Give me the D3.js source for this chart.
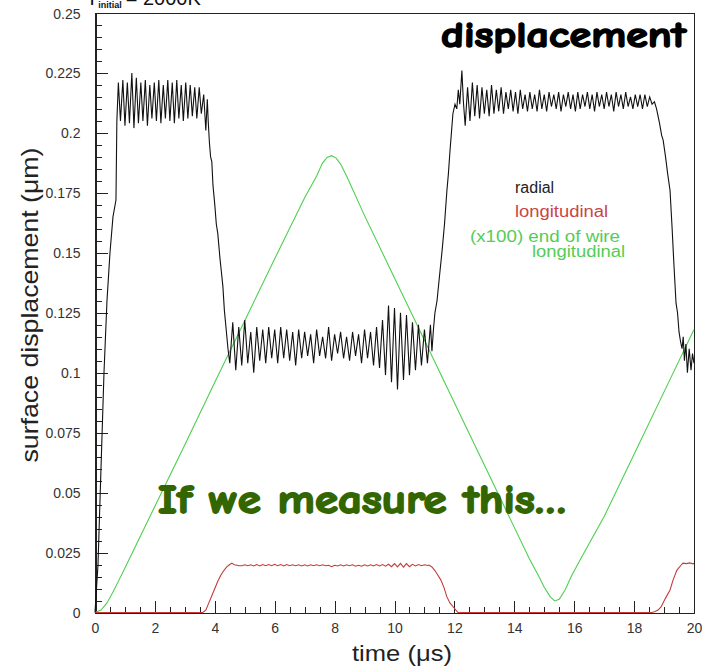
<!DOCTYPE html>
<html>
<head>
<meta charset="utf-8">
<script src="https://cdn.jsdelivr.net/npm/d3@7"></script>
<style>
  html, body { margin: 0; padding: 0; background: #fff; }
  svg { display: block; }
</style>
</head>
<body>
<svg id="chart" width="717" height="670"></svg>
<script>
// ---------------- data ----------------
const xTicks = [0, 2, 4, 6, 8, 10, 12, 14, 16, 18, 20];
const yTicks = [0, 0.025, 0.05, 0.075, 0.1, 0.125, 0.15, 0.175, 0.2, 0.225, 0.25];
const yTickLabels = ["0", "0.025", "0.05", "0.075", "0.1", "0.125", "0.15", "0.175", "0.2", "0.225", "0.25"];

// radial surface displacement (black)
const radial = [
  [0,0],[0.1,0.02],[0.2,0.06],[0.3,0.1],[0.4,0.13],[0.5,0.15],[0.6,0.165],[0.7,0.172],[0.73,0.205],
  [0.78,0.221],[0.85,0.205],[0.93,0.222],[1.00,0.203],[1.08,0.221],[1.15,0.204],[1.23,0.225],[1.30,0.202],
  [1.38,0.223],[1.45,0.204],[1.53,0.221],[1.60,0.205],[1.68,0.222],[1.75,0.203],[1.83,0.220],[1.90,0.206],
  [1.98,0.221],[2.05,0.205],[2.13,0.222],[2.20,0.204],[2.28,0.220],[2.35,0.206],[2.43,0.222],[2.50,0.205],
  [2.58,0.221],[2.65,0.204],[2.73,0.222],[2.80,0.206],[2.88,0.220],[2.95,0.205],[3.03,0.221],[3.10,0.206],
  [3.18,0.220],[3.25,0.207],[3.33,0.219],[3.40,0.206],[3.48,0.219],[3.55,0.208],[3.63,0.216],[3.70,0.201],
  [3.75,0.214],
  [3.78,0.205],[3.82,0.196],[3.86,0.19],[3.9,0.188],[3.94,0.178],[4.0,0.17],[4.05,0.162],[4.1,0.158],
  [4.17,0.148],[4.22,0.142],[4.27,0.136],[4.32,0.126],[4.38,0.118],[4.44,0.11],
  [4.5,0.104],[4.6,0.121],[4.7,0.101],[4.8,0.119],[4.9,0.103],[5.0,0.122],[5.1,0.104],[5.2,0.117],
  [5.3,0.100],[5.4,0.119],[5.5,0.105],[5.6,0.118],[5.7,0.104],[5.8,0.119],[5.9,0.106],[6.0,0.118],
  [6.1,0.104],[6.2,0.119],[6.3,0.106],[6.4,0.118],[6.5,0.105],[6.6,0.117],[6.7,0.103],[6.8,0.118],
  [6.9,0.106],[7.0,0.117],[7.1,0.107],[7.2,0.116],[7.3,0.104],[7.4,0.118],[7.5,0.107],[7.6,0.115],
  [7.7,0.106],[7.8,0.119],[7.9,0.105],[8.0,0.116],[8.1,0.108],[8.2,0.117],[8.3,0.106],[8.4,0.115],
  [8.5,0.105],[8.6,0.117],[8.7,0.107],[8.8,0.116],[8.9,0.104],[9.0,0.118],[9.1,0.106],[9.2,0.117],
  [9.3,0.103],[9.4,0.119],[9.5,0.102],[9.6,0.122],[9.7,0.099],[9.8,0.128],[9.9,0.096],[10.0,0.127],
  [10.1,0.093],[10.2,0.125],[10.3,0.097],[10.4,0.124],[10.5,0.099],[10.6,0.121],[10.7,0.101],[10.8,0.120],
  [10.9,0.103],[11.0,0.118],[11.1,0.104],[11.2,0.120],[11.25,0.109],
  [11.3,0.118],[11.35,0.125],[11.42,0.130],[11.5,0.14],[11.59,0.151],[11.67,0.162],[11.75,0.176],
  [11.8,0.183],[11.85,0.192],[11.9,0.20],[11.95,0.208],[12.02,0.212],[12.08,0.210],[12.13,0.218],
  [12.18,0.212],[12.25,0.226],[12.3,0.213],
  [12.36,0.203],[12.44,0.219],[12.52,0.205],[12.60,0.221],[12.68,0.207],[12.76,0.220],[12.84,0.206],
  [12.92,0.219],[13.00,0.208],[13.08,0.218],[13.16,0.207],[13.24,0.220],[13.32,0.208],[13.40,0.218],
  [13.48,0.209],[13.56,0.219],[13.64,0.208],[13.72,0.217],[13.80,0.210],[13.88,0.218],[13.96,0.209],
  [14.04,0.217],[14.12,0.208],[14.20,0.218],[14.28,0.210],[14.36,0.216],[14.44,0.209],[14.52,0.217],
  [14.60,0.210],[14.68,0.216],[14.76,0.209],[14.84,0.218],[14.92,0.210],[15.00,0.216],[15.08,0.209],
  [15.16,0.217],[15.24,0.211],[15.32,0.216],[15.40,0.210],[15.48,0.217],[15.56,0.209],[15.64,0.216],
  [15.72,0.211],[15.80,0.217],[15.88,0.210],[15.96,0.216],[16.04,0.209],[16.12,0.217],[16.20,0.210],
  [16.28,0.216],[16.36,0.211],[16.44,0.217],[16.52,0.210],[16.60,0.216],[16.68,0.209],[16.76,0.217],
  [16.84,0.211],[16.92,0.216],[17.00,0.210],[17.08,0.217],[17.16,0.211],[17.24,0.216],[17.32,0.209],
  [17.40,0.217],[17.48,0.211],[17.56,0.216],[17.64,0.210],[17.72,0.217],[17.80,0.211],[17.88,0.215],
  [17.96,0.210],[18.04,0.216],[18.12,0.211],[18.20,0.216],[18.28,0.210],[18.36,0.216],[18.44,0.211],
  [18.52,0.215],[18.60,0.212],
  [18.68,0.213],[18.75,0.210],[18.8,0.207],[18.85,0.204],[18.92,0.199],[18.97,0.197],[19.05,0.19],
  [19.12,0.183],[19.2,0.176],[19.27,0.16],[19.33,0.145],[19.4,0.129],[19.45,0.125],[19.5,0.117],
  [19.55,0.113],[19.6,0.110],[19.64,0.115],[19.68,0.105],[19.73,0.112],[19.78,0.100],[19.84,0.110],
  [19.9,0.101],[19.95,0.108],[20,0.104]
];

// longitudinal surface displacement (red)
const longitudinal = [
  [0,0],[3.6,0],[3.7,0.001],[3.8,0.004],[3.9,0.007],[4.0,0.010],[4.1,0.013],[4.2,0.0155],[4.3,0.0175],
  [4.4,0.019],[4.5,0.020],[4.57,0.0206],[4.65,0.0199],[4.75,0.0197],
  [4.8,0.0195],[4.9,0.0195],[5.0,0.0199],[5.1,0.0195],[5.2,0.0199],[5.3,0.0194],[5.4,0.0200],[5.5,0.0194],
  [5.6,0.0200],[5.7,0.0195],[5.8,0.0200],[5.9,0.0195],[6.0,0.0201],[6.1,0.0195],[6.2,0.0200],[6.3,0.0194],
  [6.4,0.0200],[6.5,0.0195],[6.6,0.0199],[6.7,0.0195],[6.8,0.0199],[6.9,0.0194],[7.0,0.0199],[7.1,0.0194],
  [7.2,0.0199],[7.3,0.0195],[7.4,0.0199],[7.5,0.0195],[7.6,0.0199],[7.7,0.0195],[7.8,0.0197],[7.9,0.0191],
  [8.0,0.0197],[8.1,0.0194],[8.2,0.0199],[8.3,0.0194],[8.4,0.0199],[8.5,0.0195],[8.6,0.0199],[8.7,0.0193],
  [8.8,0.0197],[8.9,0.0193],[9.0,0.0199],[9.1,0.0194],[9.2,0.0199],[9.3,0.0194],[9.4,0.0200],[9.5,0.0194],
  [9.6,0.0200],[9.7,0.0193],[9.8,0.0201],[9.9,0.0191],[10.0,0.0204],[10.1,0.0190],[10.2,0.0205],[10.3,0.0189],
  [10.4,0.0204],[10.5,0.0191],[10.6,0.0201],[10.7,0.0194],[10.8,0.0200],[10.9,0.0195],[11.0,0.0199],[11.1,0.0196],
  [11.15,0.0198],[11.25,0.019],[11.35,0.0175],[11.45,0.0155],[11.55,0.0135],[11.65,0.0105],[11.75,0.0065],
  [11.85,0.004],[11.95,0.0025],[12.05,0.001],[12.12,0],[18.6,0],[18.7,0.0004],[18.8,0.001],[18.9,0.0023],
  [19.05,0.006],[19.2,0.0094],[19.3,0.0135],[19.43,0.0177],[19.55,0.0195],[19.63,0.0206],[19.75,0.0204],
  [19.85,0.0207],[19.97,0.0203],[20,0.0205]
];

// (x100) end of wire longitudinal (green)
const endOfWire = [
  [0,0],[0.2,0.001],[0.4,0.004],[0.6,0.0085],[0.8,0.0135],[1.0,0.0186],[2,0.0443],[3,0.070],[4,0.096],
  [5,0.1217],[6,0.1475],[7,0.173],[7.4,0.182],[7.6,0.1875],[7.75,0.1898],[7.9,0.1905],[8.05,0.1895],
  [8.2,0.187],[8.4,0.182],[9,0.1655],[10,0.1395],[11,0.1135],[12,0.0875],[13,0.0615],[14,0.0355],
  [14.5,0.0225],[14.8,0.0155],[15.0,0.0105],[15.2,0.0065],[15.35,0.0048],[15.5,0.0055],[15.7,0.0095],
  [15.9,0.015],[16.2,0.022],[17,0.040],[18,0.066],[19,0.092],[20,0.118]
];

const legendLabels = ["radial", "longitudinal", "(x100) end of wire", "longitudinal"];

// ---------------- layout ----------------
const svg = d3.select("#chart");
const L = 95, R = 694, T = 13, B = 612.5;
const x = d3.scaleLinear().domain([0, 20]).range([L, R]);
const y = d3.scaleLinear().domain([0, 0.25]).range([B, T]);

const colBlack = "#111", colRed = "#c83a3a", colGreen = "#4fcf4f";
const tickFont = "'Liberation Sans', Arial, Helvetica, sans-serif";

// frame
svg.append("rect")
  .attr("x", L + 0.5).attr("y", T + 0.5)
  .attr("width", R - L).attr("height", B - T)
  .attr("fill", "none").attr("stroke", "#222").attr("stroke-width", 1)
  .attr("shape-rendering", "crispEdges");

// minor ticks
const yMinor = d3.range(0, 51).map(i => i * 0.005).filter(v => !yTicks.some(t => Math.abs(t - v) < 1e-9));
const xMinor = d3.range(0, 41).map(i => i * 0.5).filter(v => !xTicks.includes(v));

const gyMinor = svg.append("g").attr("transform", `translate(${L + 0.5},0)`)
  .call(d3.axisLeft(y).tickValues(yMinor).tickSizeInner(-6).tickSizeOuter(0).tickFormat(""));
const gy = svg.append("g").attr("transform", `translate(${L + 0.5},0)`)
  .call(d3.axisLeft(y).tickValues(yTicks).tickSizeInner(-12).tickSizeOuter(0).tickPadding(15)
    .tickFormat((d, i) => yTickLabels[i]));
const gxMinor = svg.append("g").attr("transform", `translate(0,${B + 0.5})`)
  .call(d3.axisBottom(x).tickValues(xMinor).tickSizeInner(-6).tickSizeOuter(0).tickFormat(""));
const gx = svg.append("g").attr("transform", `translate(0,${B + 0.5})`)
  .call(d3.axisBottom(x).tickValues(xTicks).tickSizeInner(-12).tickSizeOuter(0).tickPadding(10)
    .tickFormat(d => String(d)));

[gy, gx, gyMinor, gxMinor].forEach(g => {
  g.select(".domain").attr("stroke", "#222").attr("shape-rendering", "crispEdges");
  g.selectAll(".tick line").attr("stroke", "#222").attr("shape-rendering", "crispEdges");
  g.selectAll(".tick text").attr("font-family", tickFont).attr("font-size", 14).attr("fill", "#333");
});
gy.selectAll(".tick text").attr("dy", "0.36em");
gx.selectAll(".tick text").attr("dy", "0.71em");

// curves
const line = d3.line().x(d => x(d[0])).y(d => y(d[1]));
svg.append("path").datum(endOfWire).attr("d", line)
  .attr("fill", "none").attr("stroke", colGreen).attr("stroke-width", 1.1);
svg.append("path").datum(longitudinal).attr("d", line)
  .attr("fill", "none").attr("stroke", colRed).attr("stroke-width", 1.1);
svg.append("path").datum(radial).attr("d", line)
  .attr("fill", "none").attr("stroke", colBlack).attr("stroke-width", 1.1);

// axis titles
svg.append("text")
  .attr("x", 402).attr("y", 661)
  .attr("text-anchor", "middle")
  .attr("font-family", tickFont).attr("font-size", 22).attr("fill", "#222")
  .attr("textLength", 100).attr("lengthAdjust", "spacingAndGlyphs")
  .text("time (μs)");
svg.append("text")
  .attr("transform", "translate(38,305) rotate(-90)")
  .attr("text-anchor", "middle")
  .attr("font-family", tickFont).attr("font-size", 24).attr("fill", "#222")
  .attr("textLength", 315).attr("lengthAdjust", "spacingAndGlyphs")
  .text("surface displacement (μm)");

// partially clipped title at top (clipped in the original too)
const title = svg.append("text").attr("x", 86).attr("y", 5)
  .attr("font-family", tickFont).attr("font-size", 20).attr("fill", "#111");
title.append("tspan").text("T");
title.append("tspan").attr("dy", 3).attr("font-size", 9).attr("font-weight", "bold").text("initial");
title.append("tspan").attr("dy", -3).attr("dx", 4).text("= 2000K");

// legend
const legFont = tickFont;
svg.append("text").attr("x", 515).attr("y", 193)
  .attr("font-family", legFont).attr("font-size", 16).attr("fill", "#222").text(legendLabels[0]);
svg.append("text").attr("x", 515).attr("y", 217)
  .attr("font-family", legFont).attr("font-size", 16).attr("fill", "#c84646")
  .attr("textLength", 93).attr("lengthAdjust", "spacingAndGlyphs").text(legendLabels[1]);
svg.append("text").attr("x", 470).attr("y", 242)
  .attr("font-family", legFont).attr("font-size", 16).attr("fill", "#55cc55")
  .attr("textLength", 150).attr("lengthAdjust", "spacingAndGlyphs").text(legendLabels[2]);
svg.append("text").attr("x", 532).attr("y", 257)
  .attr("font-family", legFont).attr("font-size", 16).attr("fill", "#55cc55")
  .attr("textLength", 93).attr("lengthAdjust", "spacingAndGlyphs").text(legendLabels[3]);

// annotations
const comic = "'Comic Sans MS', 'Comic Neue', 'DejaVu Sans', sans-serif";
svg.append("text").attr("x", 441).attr("y", 47)
  .attr("font-family", comic).attr("font-weight", "bold").attr("font-size", 36).attr("fill", "#000")
  .attr("stroke", "#000").attr("stroke-width", 1.6).attr("stroke-linejoin", "round")
  .attr("textLength", 245).attr("lengthAdjust", "spacingAndGlyphs")
  .text("displacement");
svg.append("text").attr("x", 158).attr("y", 513)
  .attr("font-family", comic).attr("font-weight", "bold").attr("font-size", 40).attr("fill", "#336600")
  .attr("stroke", "#336600").attr("stroke-width", 1.8).attr("stroke-linejoin", "round")
  .attr("textLength", 408).attr("lengthAdjust", "spacingAndGlyphs")
  .text("If we measure this…");
</script>
</body>
</html>
